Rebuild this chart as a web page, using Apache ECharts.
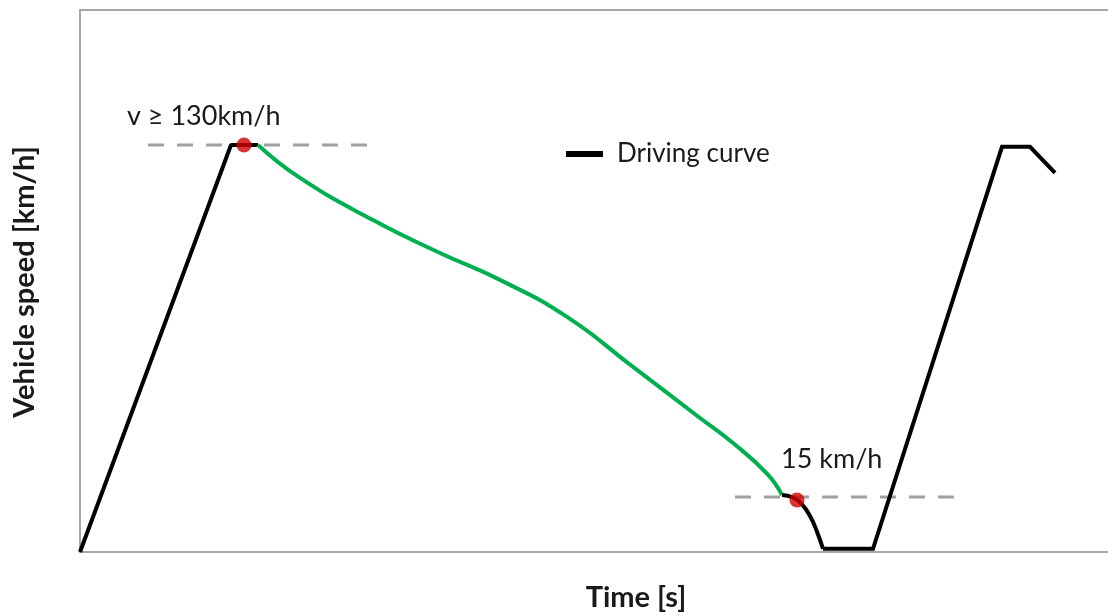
<!DOCTYPE html>
<html>
<head>
<meta charset="utf-8">
<script src="https://cdn.jsdelivr.net/npm/echarts@6/dist/echarts.min.js"></script>
<style>html,body{margin:0;padding:0;background:#fff;}#c{width:1108px;height:615px;}</style>
</head>
<body>
<div id="c"></div>
<script>
// Time axis (arbitrary s) and speed (km/h)
const accelPhase = [[0, 0], [151, 130], [178, 130]];
const coastPhase = [[178, 130], [220, 119.5], [293, 106.0], [360, 95.5], [420, 86.9], [487, 75.1],
  [553, 59.1], [620, 42.8], [653, 34.8], [687, 25.0], [702, 18.2]];
const brakePhase = [[702, 18.2], [713, 17.4], [722, 15.2], [730, 11.5], [737, 6.5], [743, 1]];
const restartPhase = [[743, 1], [793, 1], [922, 129.4], [950, 129.4], [975, 121.1]];
const upperThreshold = [[68, 130], [292, 130]];
const lowerThreshold = [[655, 17.6], [882, 17.6]];
const switchPoints = [[164, 130], [717, 16.6]];
const upperLabel = 'v ≥ 130km/h';
const lowerLabel = '15 km/h';
const legendName = 'Driving curve';
const xTitle = 'Time [s]';
const yTitle = 'Vehicle speed [km/h]';

const FONT = 'Lato';
const chart = echarts.init(document.getElementById('c'), null, {renderer: 'canvas'});
const axisLineStyle = {show: true, lineStyle: {color: '#a6a6a6', width: 2}};
const hidden = {axisTick: {show: false}, axisLabel: {show: false}, splitLine: {show: false}};
const dashed = {color: '#a0a0a0', width: 3, type: [16, 13]};
chart.setOption({
  animation: false,
  backgroundColor: '#fff',
  textStyle: {fontFamily: FONT},
  grid: {left: 80, top: 10, right: 0, bottom: 63},
  xAxis: [
    Object.assign({type: 'value', min: 0, max: 1028, position: 'bottom', axisLine: axisLineStyle}, hidden),
    Object.assign({type: 'value', min: 0, max: 1028, position: 'top', axisLine: axisLineStyle}, hidden)
  ],
  yAxis: Object.assign({type: 'value', min: 0, max: 173.1, axisLine: axisLineStyle}, hidden),
  legend: {
    data: [legendName], left: 561, top: 136, icon: 'rect', itemWidth: 37, itemHeight: 6,
    textStyle: {fontFamily: FONT, fontSize: 26, color: '#1a1a1a', padding: [0, 0, 0, 9]},
    selectedMode: false
  },
  series: [
    {type: 'line', data: upperThreshold, symbol: 'none', lineStyle: dashed, z: 1, silent: true},
    {type: 'line', data: lowerThreshold, symbol: 'none', lineStyle: dashed, z: 1, silent: true},
    {name: legendName, type: 'line', data: accelPhase, symbol: 'none', itemStyle: {color: '#000'},
      lineStyle: {color: '#000', width: 4}, z: 3},
    {type: 'line', data: coastPhase, symbol: 'none', smooth: 0.5,
      lineStyle: {color: '#00b050', width: 4}, z: 3},
    {type: 'line', data: brakePhase, symbol: 'none', smooth: 0.5,
      lineStyle: {color: '#000', width: 4}, z: 3},
    {type: 'line', data: restartPhase, symbol: 'none',
      lineStyle: {color: '#000', width: 4, join: 'miter'}, z: 3},
    {type: 'scatter', data: switchPoints, symbolSize: 15, itemStyle: {color: '#d10000'}, z: 5}
  ],
  graphic: [
    {type: 'text', left: 127, top: 103, style: {text: upperLabel, font: '27px ' + FONT, fill: '#1a1a1a'}},
    {type: 'text', left: 781, top: 446, style: {text: lowerLabel, font: '27px ' + FONT, fill: '#1a1a1a'}},
    {type: 'text', x: 636, y: 598, style: {text: xTitle, font: 'bold 29px ' + FONT, fill: '#1a1a1a',
      align: 'center', verticalAlign: 'middle'}},
    {type: 'text', x: 25, y: 282, rotation: Math.PI / 2, style: {text: yTitle, font: 'bold 29px ' + FONT,
      fill: '#1a1a1a', align: 'center', verticalAlign: 'middle'}}
  ]
});
</script>
</body>
</html>
